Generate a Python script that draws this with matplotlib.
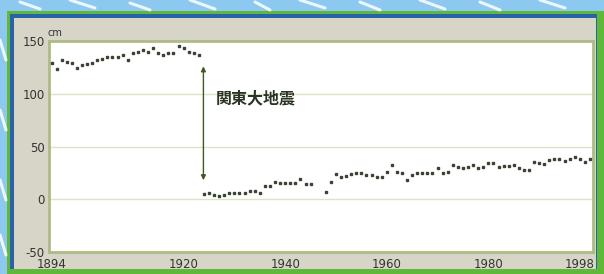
import matplotlib
matplotlib.use("Agg")
import matplotlib.pyplot as plt
from matplotlib.patches import Rectangle
from matplotlib.lines import Line2D

# ---- data ----
years_before = list(range(1894, 1924))
values_before = [129, 123.5, 132, 130, 129, 124, 127, 128, 129, 132,
                 133, 135, 135, 135, 137, 132, 139, 140, 141, 140,
                 143, 139, 137, 139, 139, 145, 143, 140, 139, 137]

years_after = (list(range(1924, 1946)) + list(range(1948, 2001)))
values_after = [5, 6, 4, 3, 4, 6, 6, 6, 6, 7.5,
                7.5, 6, 13, 13, 16, 15, 15.5, 15.5, 15.5, 19,
                14, 14,
                7, 16, 24, 21, 22, 24, 25, 25, 23, 23,
                21, 21, 26, 32, 26, 25, 18, 23, 25, 25,
                25, 25, 29.5, 25, 26, 32.5, 30.5, 29.5, 31, 32,
                30, 31, 34, 34, 31, 31.5, 31.5, 32, 30, 28,
                28, 35, 34, 33, 37, 38, 38, 36, 38, 40,
                38, 35, 38]

x_ticks = [1894, 1920, 1940, 1960, 1980, 1998]
y_ticks = [150, 100, 50, 0, -50]
quake_label = "関東大地震"
unit_label = "cm"

W, H = 604, 274
fig = plt.figure(figsize=(W / 100, H / 100), dpi=100)
fig.patch.set_facecolor("#8cc8f0")

def rect(x0, y0, x1, y1, color, z=0):
    fig.patches.append(Rectangle((x0 / W, 1 - y1 / H), (x1 - x0) / W, (y1 - y0) / H,
                                 transform=fig.transFigure, facecolor=color,
                                 edgecolor="none", zorder=z))

# decorative white strokes in the sky
for (xa, ya, xb, yb) in [(20, 2, 40, 9), (70, 0, 95, 8), (130, 3, 150, 10), (190, 0, 215, 9),
                         (255, 2, 270, 10), (300, 0, 325, 8), (360, 2, 380, 10),
                         (420, 0, 445, 9), (480, 2, 500, 10), (540, 0, 565, 8),
                         (0, 40, 6, 60), (0, 110, 6, 130), (0, 180, 6, 200), (0, 235, 6, 255)]:
    fig.lines.append(Line2D([xa / W, xb / W], [1 - ya / H, 1 - yb / H], transform=fig.transFigure,
                            color="white", lw=2.2, alpha=0.85, solid_capstyle="round"))

rect(7, 11, 604, 274, "#5fb83a", 1)
rect(10, 14, 597, 269, "#2a62a8", 2)
rect(14, 18, 596, 269, "#d7d5c8", 3)

ax = fig.add_axes([49 / W, 1 - 252 / H, 544 / W, 211 / H], zorder=5)
ax.set_facecolor("white")
ax.set_xlim(1893.5, 2000.6)
ax.set_ylim(-50, 150)

for yv in [100, 50, 0]:
    ax.axhline(yv, color="#dde4c6", lw=1.0, zorder=1)

ax.plot(years_before, values_before, linestyle="none", marker="s", markersize=1.7,
        color="#3a4434", zorder=3)
ax.plot(years_after, values_after, linestyle="none", marker="s", markersize=1.7,
        color="#3a4434", zorder=3)

ax.annotate("", xy=(1923.9, 126), xytext=(1923.9, 18),
            arrowprops=dict(arrowstyle="<|-|>", color="#3c5a28", lw=1.0,
                            mutation_scale=7, shrinkA=0, shrinkB=0), zorder=4)
ax.text(1926.3, 96, quake_label, fontsize=11.5, fontweight="bold",
        family=["Noto Sans CJK JP", "DejaVu Sans"], color="#2a3424",
        ha="left", va="center", zorder=4)

ax.set_xticks(x_ticks)
ax.set_xticklabels([str(v) for v in x_ticks])
ax.set_yticks(y_ticks)
ax.set_yticklabels([str(v) for v in y_ticks])
ax.tick_params(length=0, labelsize=8.5, labelcolor="#333333", pad=3)
ax.tick_params(axis="x", pad=4)
for s in ax.spines.values():
    s.set_color("#aebb86")
    s.set_linewidth(2)

ax.text(-0.002, 1.015, unit_label, transform=ax.transAxes, fontsize=7,
        color="#333333", ha="left", va="bottom")

fig.savefig("out.png", dpi=100)
